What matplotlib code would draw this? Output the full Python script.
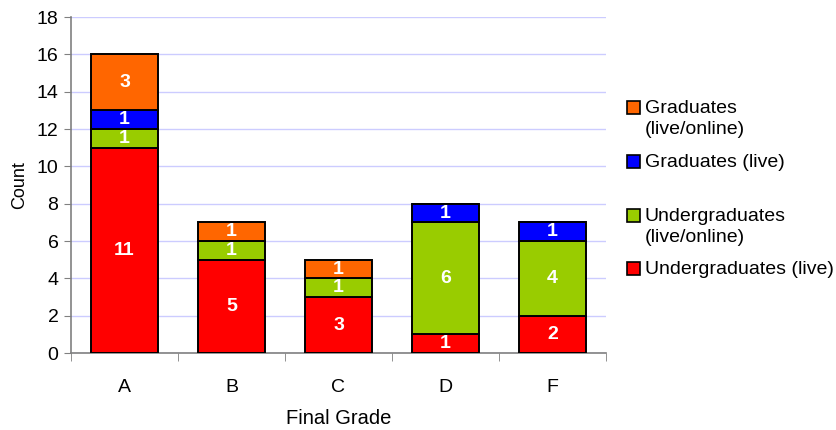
import numpy as np
import matplotlib
matplotlib.use("Agg")
import matplotlib.pyplot as plt
from matplotlib.patches import Rectangle

plt.rcParams["font.family"] = ["Liberation Sans", "DejaVu Sans"]

grades = ["A", "B", "C", "D", "F"]
ug_live = [11, 5, 3, 1, 2]
ug_online = [1, 1, 1, 6, 4]
gr_live = [1, 0, 0, 1, 1]
gr_online = [3, 1, 1, 0, 0]

series = [
    ("Undergraduates (live)", ug_live, "#ff0000"),
    ("Undergraduates\n(live/online)", ug_online, "#99cc00"),
    ("Graduates (live)", gr_live, "#0000ff"),
    ("Graduates\n(live/online)", gr_online, "#ff6600"),
]

fig = plt.figure(figsize=(8.36, 4.30), dpi=100)
ax = fig.add_axes([71 / 836, 1 - 353 / 430, (606 - 71) / 836, (353 - 17) / 430])

x = np.arange(len(grades))
bottom = np.zeros(len(grades))
for name, vals, color in series:
    vals = np.array(vals, dtype=float)
    ax.bar(x, vals, 0.62, bottom=bottom, color=color, edgecolor="black",
           linewidth=1.4, zorder=3)
    for xi, b, v in zip(x, bottom, vals):
        if v > 0:
            ax.text(xi, b + v / 2, f"{int(v)}", ha="center", va="center",
                    color="white", fontsize=14, fontweight="bold", zorder=4)
    bottom += vals

ax.set_xlim(-0.5, len(grades) - 0.5)
ax.set_ylim(0, 18)
ax.set_yticks(range(0, 19, 2))
ax.set_xticks(x)
ax.set_xticklabels(grades)
ax.set_xticks(np.arange(-0.5, len(grades)), minor=True)
ax.tick_params(axis="x", which="major", length=0, pad=19, labelsize=14)
ax.tick_params(axis="x", which="minor", length=6, color="#808080", direction="out")
ax.tick_params(axis="y", length=5, color="#808080", labelsize=14, pad=4)
ax.grid(axis="y", color="#ccccff", linewidth=1, zorder=0)
for s in ("top", "right"):
    ax.spines[s].set_visible(False)
for s in ("left", "bottom"):
    ax.spines[s].set_color("#808080")
    ax.spines[s].set_linewidth(1.2)
ax.set_xlabel("Final Grade", fontsize=14.5, labelpad=9)
ax.set_ylabel("Count", fontsize=13, labelpad=6)

# legend drawn by hand, top entry first, with the Excel-style gap
legend_rows = [(series[3], 107), (series[2], 161), (series[1], 215), (series[0], 268)]
for (name, _, color), ypix in legend_rows:
    fig.patches.append(Rectangle((627 / 836, 1 - (ypix + 6.5) / 430), 13 / 836, 13 / 430,
                                 transform=fig.transFigure, facecolor=color,
                                 edgecolor="black", linewidth=1.2))
    fig.text(645 / 836, 1 - (ypix - 7) / 430, name, ha="left", va="top",
             fontsize=14, linespacing=1.3)

fig.savefig("out.png", dpi=100)
